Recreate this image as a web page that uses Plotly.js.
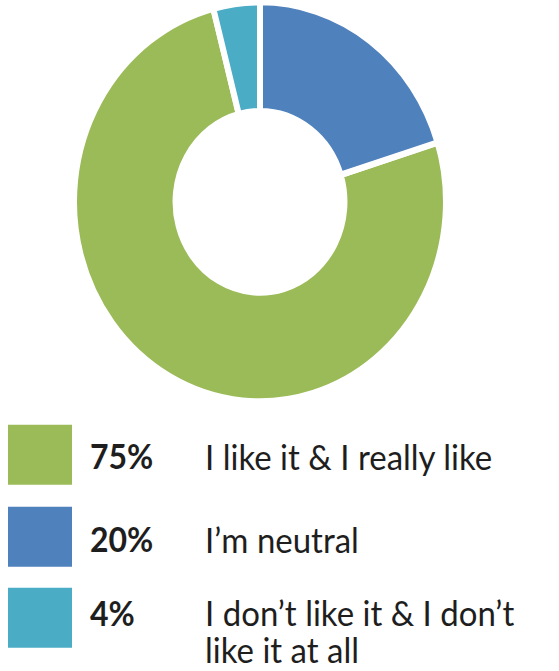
<!DOCTYPE html>
<html>
<head>
<meta charset="utf-8">
<script src="https://cdn.plot.ly/plotly-3.0.1.min.js"></script>
<style>
  html, body { margin: 0; padding: 0; background: #ffffff; overflow: hidden; }
  #chart { width: 559px; height: 671px; transform: scaleY(1.0736); transform-origin: 0 0; }
</style>
</head>
<body>
<div id="chart"></div>
<script>
// Data
const categories = ["I like it & I really like", "I\u2019m neutral", "I don\u2019t like it & I don\u2019t"];
const categoryLine2 = ["", "", "like it at all"];
const values = [75, 20, 4];
const percentLabels = ["75%", "20%", "4%"];
const colors = ["#9BBB59", "#4F81BD", "#4BACC6"];

const W = 559, H = 671;
const px = x => x / W;
const py = y => 1 - y / H;

const total = values.reduce((a, b) => a + b, 0);

const trace = {
  type: "pie",
  values: values,
  labels: categories.map((c, i) => c + (categoryLine2[i] ? " " + categoryLine2[i] : "")),
  sort: false,
  direction: "counterclockwise",
  rotation: 360 * values[1] / total,
  hole: 0.454,
  textinfo: "none",
  hoverinfo: "label+percent",
  showlegend: false,
  marker: { colors: colors, line: { color: "#ffffff", width: 6 } },
  domain: { x: [px(260 - 186), px(260 + 186)], y: [py(188 + 186), py(188 - 186)] }
};

// Legend built from categories / colours
const boxes = [[395.7, 451.6], [472, 528], [547.5, 603.4]];
const textY = [424.6, 502, 570];
const shapes = [];
const annotations = [];
const txtFont = { family: "Lato, sans-serif", size: 33, color: "#1e1e1e" };
categories.forEach((c, i) => {
  shapes.push({
    type: "rect", xref: "paper", yref: "paper",
    x0: px(8), x1: px(72), y0: py(boxes[i][1]), y1: py(boxes[i][0]),
    fillcolor: colors[i], line: { width: 0 }
  });
  annotations.push({
    xref: "paper", yref: "paper", x: px(88), y: py(textY[i]),
    xanchor: "left", yanchor: "middle", showarrow: false,
    text: "<b>" + percentLabels[i] + "</b>",
    font: { family: "Lato, sans-serif", size: 32, color: "#1e1e1e" }
  });
  const main = {
    xref: "paper", yref: "paper", x: px(203), y: py(textY[i]),
    xanchor: "left", yanchor: "middle", showarrow: false,
    text: c, font: txtFont
  };
  if (categoryLine2[i]) main.height = 34;
  annotations.push(main);
  if (categoryLine2[i]) {
    annotations.push({
      xref: "paper", yref: "paper", x: px(203), y: py(textY[i] + 35.4),
      xanchor: "left", yanchor: "middle", showarrow: false, height: 34,
      text: categoryLine2[i], font: txtFont
    });
  }
});

const layout = {
  width: W, height: H,
  margin: { l: 0, r: 0, t: 0, b: 0 },
  paper_bgcolor: "#ffffff",
  plot_bgcolor: "#ffffff",
  shapes: shapes,
  annotations: annotations
};

Plotly.newPlot("chart", [trace], layout, { displayModeBar: false, staticPlot: true });
</script>
</body>
</html>
